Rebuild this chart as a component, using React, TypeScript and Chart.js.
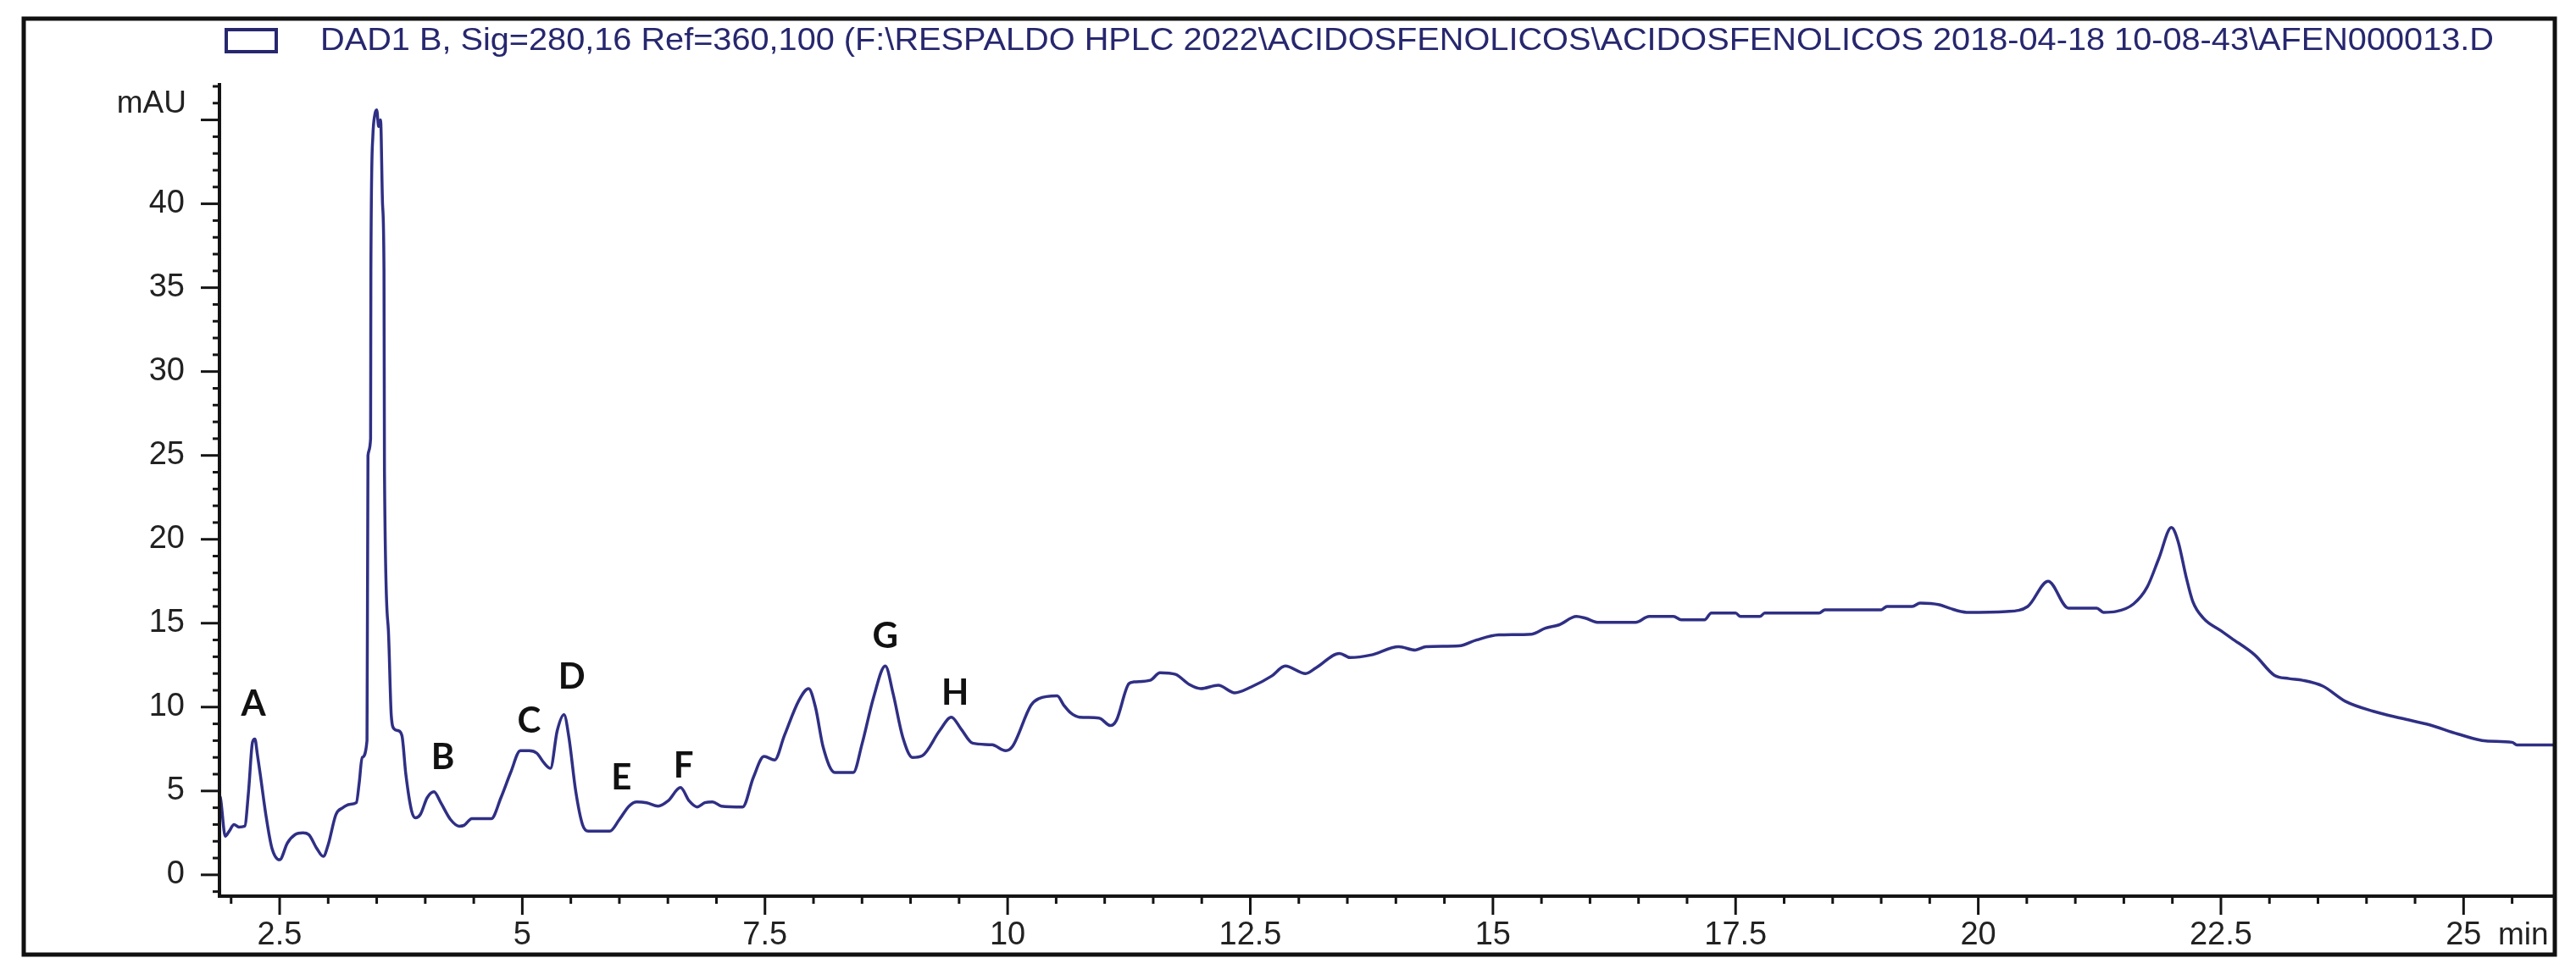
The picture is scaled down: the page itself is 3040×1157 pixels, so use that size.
import React, { useEffect, useRef } from "react";
import { Chart, registerables } from "chart.js";

Chart.register(...registerables);

// ---------------- data ----------------
const retentionTimes = [
  1.88, 1.89, 1.94, 1.98, 2.03, 2.08, 2.14, 2.18, 2.22, 2.245, 2.27, 2.3, 2.36, 2.42, 2.5,
  2.58, 2.66, 2.74, 2.8, 2.88, 2.95, 3.0, 3.08, 3.15, 3.22, 3.29, 3.32, 3.35, 3.4, 3.41,
  3.437, 3.44, 3.46, 3.48, 3.5, 3.52, 3.54, 3.56, 3.575, 3.58, 3.62, 3.65, 3.68, 3.72, 3.76,
  3.8, 3.86, 3.9, 3.95, 4.02, 4.09, 4.16, 4.26, 4.35, 4.4, 4.48, 4.68, 4.78, 4.88, 4.98,
  5.07, 5.15, 5.22, 5.29, 5.36, 5.43, 5.48, 5.55, 5.62, 5.68, 5.9, 6.0, 6.1, 6.18, 6.28,
  6.4, 6.5, 6.63, 6.72, 6.8, 6.88, 6.96, 7.05, 7.27, 7.38, 7.49, 7.6, 7.7, 7.85, 7.95,
  8.02, 8.1, 8.22, 8.41, 8.5, 8.62, 8.74, 8.82, 8.92, 9.02, 9.12, 9.3, 9.42, 9.52, 9.64,
  9.84, 9.98, 10.05, 10.24, 10.32, 10.51, 10.58, 10.65, 10.74, 10.94, 11.06, 11.12, 11.25, 11.3, 11.47,
  11.57, 11.73, 11.87, 11.99, 12.17, 12.34, 12.51, 12.72, 12.86, 13.07, 13.18, 13.42, 13.53, 13.74, 14.03,
  14.2, 14.31, 14.65, 14.83, 15.06, 15.4, 15.54, 15.68, 15.86, 15.95, 16.09, 16.47, 16.61, 16.86, 16.94,
  17.18, 17.25, 17.5, 17.55, 17.75, 17.8, 18.36, 18.42, 19.0, 19.06, 19.32, 19.4, 19.6, 19.7, 19.88,
  20.29, 20.51, 20.72, 20.93, 21.22, 21.29, 21.42, 21.6, 21.74, 21.86, 21.99, 22.06, 22.14, 22.21, 22.32,
  22.5, 22.61, 22.85, 23.05, 23.2, 23.34, 23.55, 23.78, 24.07, 24.36, 24.65, 24.94, 25.23, 25.5, 25.55,
  25.94,
];

const absorbance = [
  4.7, 4.6, 2.3, 2.6, 3.0, 2.85, 2.9, 5.0, 7.9, 8.1, 7.2, 6.0, 3.5, 1.6, 0.9,
  1.9, 2.4, 2.5, 2.4, 1.6, 1.1, 1.8, 3.6, 4.0, 4.2, 4.3, 5.5, 7.0, 8.0, 25.0,
  26.0, 36.0, 44.0, 45.3, 45.6, 44.6, 45.0, 40.0, 36.0, 24.0, 14.6, 9.5, 8.7, 8.6, 8.3,
  6.0, 3.8, 3.4, 3.6, 4.6, 4.95, 4.3, 3.3, 2.9, 2.95, 3.35, 3.35, 4.6, 6.1, 7.4,
  7.4, 7.25, 6.7, 6.35, 8.6, 9.55, 8.2, 5.0, 3.0, 2.6, 2.6, 3.3, 4.1, 4.35, 4.3,
  4.1, 4.4, 5.2, 4.4, 4.05, 4.3, 4.35, 4.1, 4.05, 5.8, 7.06, 6.85, 8.3, 10.4, 11.1,
  10.0, 7.6, 6.1, 6.1, 7.8, 10.6, 12.45, 10.8, 8.2, 7.0, 7.1, 8.6, 9.4, 8.7, 7.85,
  7.75, 7.4, 7.65, 10.1, 10.5, 10.67, 10.1, 9.65, 9.4, 9.35, 8.9, 9.2, 11.4, 11.5, 11.6,
  12.05, 11.95, 11.35, 11.1, 11.3, 10.85, 11.2, 11.85, 12.45, 12.0, 12.35, 13.2, 12.95, 13.1, 13.6,
  13.4, 13.6, 13.65, 14.0, 14.3, 14.35, 14.7, 14.9, 15.4, 15.3, 15.05, 15.05, 15.4, 15.4, 15.2,
  15.2, 15.6, 15.6, 15.4, 15.4, 15.6, 15.6, 15.8, 15.8, 16.0, 16.0, 16.2, 16.1, 15.9, 15.65,
  15.7, 16.0, 17.5, 15.9, 15.9, 15.65, 15.7, 16.15, 17.15, 18.85, 20.7, 19.85, 17.8, 16.3, 15.3,
  14.55, 14.1, 13.1, 11.9, 11.7, 11.6, 11.25, 10.35, 9.75, 9.33, 8.94, 8.4, 7.98, 7.9, 7.74,
  7.74,
];

const peakLabels = ["A", "B", "C", "D", "E", "F", "G", "H"];
const peakLabelTimes = [2.23, 4.18, 5.07, 5.51, 6.02, 6.66, 8.74, 9.46];
const peakLabelValues = [10.17, 6.97, 9.16, 11.8, 5.79, 6.46, 14.2, 10.84];

const xTickLabels = [2.5, 5, 7.5, 10, 12.5, 15, 17.5, 20, 22.5, 25];
const yTickLabels = [0, 5, 10, 15, 20, 25, 30, 35, 40];

const signalTitle =
  "DAD1 B, Sig=280,16 Ref=360,100 (F:\\RESPALDO HPLC 2022\\ACIDOSFENOLICOS\\ACIDOSFENOLICOS 2018-04-18 10-08-43\\AFEN000013.D";
const yUnit = "mAU";
const xUnit = "min";

// ---------------- styles ----------------
const W = 3040;
const H = 1157;
const LINE_COLOR = "#2f2f85";
const TITLE_COLOR = "#27276f";
const AXIS_COLOR = "#141414";
const TEXT_COLOR = "#222222";
const TICK_FONT = "'Liberation Sans', Arial, sans-serif";

const isMultiple = (v: number, step: number) =>
  Math.abs(v / step - Math.round(v / step)) < 1e-6;

const decorPlugin = {
  id: "chromDecor",
  afterDraw(chart: any) {
    const { ctx, chartArea: ca } = chart;
    const xs = chart.scales.x;
    const ys = chart.scales.y;
    ctx.save();

    // outer frame
    ctx.strokeStyle = "#111";
    ctx.lineWidth = 5;
    ctx.strokeRect(28, 22, 2987, 1105);

    // axis lines
    ctx.strokeStyle = AXIS_COLOR;
    ctx.lineWidth = 4;
    ctx.beginPath();
    ctx.moveTo(ca.left, ca.top);
    ctx.lineTo(ca.left, ca.bottom);
    ctx.lineTo(ca.right, ca.bottom);
    ctx.stroke();

    // tick marks
    ctx.lineWidth = 3;
    ys.ticks.forEach((t: any) => {
      const p = ys.getPixelForValue(t.value);
      const len = isMultiple(t.value, 5) ? 22 : 8;
      ctx.beginPath();
      ctx.moveTo(ca.left - len, p);
      ctx.lineTo(ca.left, p);
      ctx.stroke();
    });
    xs.ticks.forEach((t: any) => {
      if (!isMultiple(t.value, 0.5)) return;
      const p = xs.getPixelForValue(t.value);
      const len = isMultiple(t.value, 2.5) ? 22 : 9;
      ctx.beginPath();
      ctx.moveTo(p, ca.bottom);
      ctx.lineTo(p, ca.bottom + len);
      ctx.stroke();
    });

    // units
    ctx.fillStyle = TEXT_COLOR;
    ctx.font = `37px ${TICK_FONT}`;
    ctx.textBaseline = "middle";
    ctx.textAlign = "right";
    ctx.fillText(yUnit, 220, 123);
    ctx.textAlign = "left";
    ctx.fillText(xUnit, 2948, 1105);

    // legend box + title
    ctx.strokeStyle = TITLE_COLOR;
    ctx.lineWidth = 4;
    ctx.strokeRect(267, 35, 59, 26);
    ctx.fillStyle = TITLE_COLOR;
    ctx.font = `37px ${TICK_FONT}`;
    ctx.textAlign = "left";
    ctx.textBaseline = "middle";
    const measured = ctx.measureText(signalTitle).width;
    const target = 2565;
    ctx.save();
    ctx.translate(378, 49);
    ctx.scale(target / measured, 1);
    ctx.fillText(signalTitle, 0, 0);
    ctx.restore();

    // peak letters
    ctx.fillStyle = "#111";
    ctx.font = `bold 42px Lato, 'Open Sans', sans-serif`;
    ctx.textAlign = "center";
    ctx.textBaseline = "middle";
    peakLabels.forEach((lab, i) => {
      const px = xs.getPixelForValue(peakLabelTimes[i]);
      const py = ys.getPixelForValue(peakLabelValues[i]);
      ctx.fillText(lab, px, py);
    });

    ctx.restore();
  },
};

export default function App() {
  const canvasRef = useRef<HTMLCanvasElement | null>(null);

  useEffect(() => {
    const canvas = canvasRef.current;
    if (!canvas) return;
    const points = retentionTimes.map((t, i) => ({ x: t, y: absorbance[i] }));
    const chart = new Chart(canvas, {
      type: "line",
      data: {
        datasets: [
          {
            data: points,
            borderColor: LINE_COLOR,
            borderWidth: 3.5,
            pointRadius: 0,
            cubicInterpolationMode: "monotone",
            borderJoinStyle: "round",
            fill: false,
          },
        ],
      },
      options: {
        animation: false,
        responsive: false,
        devicePixelRatio: 1,
        events: [],
        layout: { padding: { top: 98, right: 25, left: 0, bottom: 0 } },
        plugins: {
          legend: { display: false },
          title: { display: false },
          tooltip: { enabled: false },
        },
        scales: {
          x: {
            type: "linear",
            min: 1.88,
            max: 25.94,
            grid: { display: false, drawTicks: false, tickLength: 0 },
            border: { display: false },
            ticks: {
              stepSize: 0.5,
              maxTicksLimit: 1000,
              autoSkip: false,
              includeBounds: false,
              maxRotation: 0,
              minRotation: 0,
              padding: 24,
              color: TEXT_COLOR,
              font: { family: TICK_FONT, size: 38 },
              callback: (v: any) =>
                xTickLabels.some((l) => Math.abs(l - Number(v)) < 1e-6) ? String(v) : "",
            },
            afterFit: (s: any) => {
              s.height = 99;
            },
          },
          y: {
            type: "linear",
            min: -1.27,
            max: 47.2,
            grid: { display: false, drawTicks: false, tickLength: 0 },
            border: { display: false },
            ticks: {
              stepSize: 1,
              maxTicksLimit: 1000,
              autoSkip: false,
              includeBounds: false,
              padding: 41,
              color: TEXT_COLOR,
              font: { family: TICK_FONT, size: 38 },
              callback: (v: any) =>
                yTickLabels.some((l) => Math.abs(l - Number(v)) < 1e-6) ? String(v) : "",
            },
            afterFit: (s: any) => {
              s.width = 259;
            },
          },
        },
      },
      plugins: [decorPlugin],
    } as any);
    return () => chart.destroy();
  }, []);

  return (
    <div
      style={{
        position: "absolute",
        left: 0,
        top: 0,
        width: W,
        height: H,
        background: "#ffffff",
      }}
    >
      <canvas ref={canvasRef} width={W} height={H} style={{ display: "block" }} />
    </div>
  );
}
